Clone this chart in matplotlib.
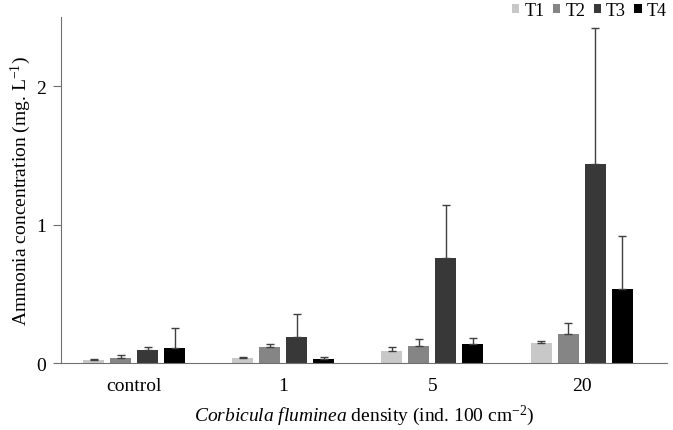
import matplotlib
matplotlib.use('Agg')
import matplotlib.pyplot as plt
import numpy as np

plt.rcParams['font.family'] = ['Liberation Serif', 'DejaVu Serif']
plt.rcParams['mathtext.fontset'] = 'custom'
plt.rcParams['mathtext.rm'] = 'Liberation Serif'
plt.rcParams['mathtext.it'] = 'Liberation Serif:italic'

# Data
densities = ['control', '1', '5', '20']
treatments = ['T1', 'T2', 'T3', 'T4']
means = {
    'T1': [0.022, 0.036, 0.090, 0.143],
    'T2': [0.036, 0.118, 0.125, 0.210],
    'T3': [0.097, 0.186, 0.760, 1.440],
    'T4': [0.109, 0.030, 0.138, 0.534],
}
errors = {
    'T1': [0.008, 0.012, 0.025, 0.017],
    'T2': [0.020, 0.024, 0.050, 0.080],
    'T3': [0.019, 0.169, 0.385, 0.980],
    'T4': [0.147, 0.016, 0.042, 0.386],
}
colors = {'T1': '#c8c8c8', 'T2': '#858585', 'T3': '#383838', 'T4': '#000000'}


def main():
    fig = plt.figure(figsize=(6.73, 4.31), dpi=100)
    ax = fig.add_axes([0.0906, 0.155, 0.9, 0.803])

    x = np.arange(len(densities))
    step = 0.181
    width = 0.141
    for i, t in enumerate(treatments):
        pos = x + (i - 1.5) * step
        ax.bar(pos, means[t], width=width, color=colors[t], label=t, zorder=2)
        ax.errorbar(pos, means[t], yerr=[np.zeros(len(densities)), errors[t]],
                    fmt='none', ecolor='#404040', elinewidth=1, capsize=3,
                    capthick=1, zorder=3)

    ax.set_xlim(-0.49, 3.57)
    ax.set_ylim(0, 2.5)
    ax.set_yticks([0, 1, 2])
    ax.set_xticks(x)
    ax.set_xticklabels(densities)
    ax.tick_params(axis='x', length=0, labelsize=14, pad=10)
    ax.tick_params(axis='y', length=6, color='#707070', labelsize=14, pad=5)
    for s in ['top', 'right']:
        ax.spines[s].set_visible(False)
    for s in ['left', 'bottom']:
        ax.spines[s].set_color('#707070')

    ax.set_ylabel('Ammonia concentration (mg. L$^{-1}$)', fontsize=14, labelpad=2)
    ax.set_xlabel(r'$\it{Corbicula\ fluminea}$ density (ind. 100 cm$^{-2}$)',
                  fontsize=14, labelpad=6)

    ax.legend(loc='upper right', bbox_to_anchor=(0.995, 1.0), bbox_transform=fig.transFigure,
              ncol=4, frameon=False, fontsize=13, handlelength=0.4, handleheight=0.4,
              handletextpad=0.3, columnspacing=0.45, borderaxespad=0.0, borderpad=0.15)

    fig.savefig('out.png', dpi=100)


if __name__ == "__main__":
    main()
